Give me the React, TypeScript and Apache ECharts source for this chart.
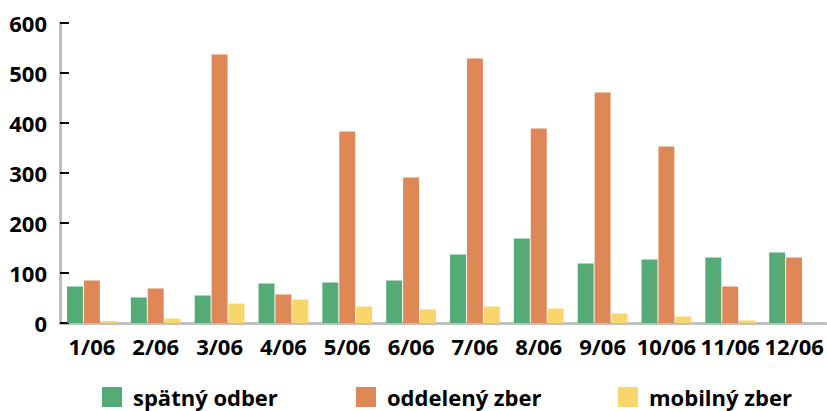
import React, { useEffect, useRef } from "react";
import * as echarts from "echarts";

const categories = ["1/06", "2/06", "3/06", "4/06", "5/06", "6/06", "7/06", "8/06", "9/06", "10/06", "11/06", "12/06"];
const spatnyOdber = [73, 51, 55, 79, 81, 85, 137, 169, 119, 127, 131, 141];
const oddelenyZber = [85, 69, 537, 57, 383, 291, 529, 389, 461, 353, 73, 131];
const mobilnyZber = [4, 9, 39, 47, 33, 27, 33, 29, 19, 13, 5, 0];
const yTicks = [0, 100, 200, 300, 400, 500, 600];
const seriesNames = ["spätný odber", "oddelený zber", "mobilný zber"];
const colors = ["#55ab76", "#df8857", "#f9d66b"];

export default function App() {
  const ref = useRef<HTMLDivElement>(null);
  useEffect(() => {
    document.body.style.margin = "0";
    if (!ref.current) return;
    const chart = echarts.init(ref.current, null, { renderer: "svg" });
    const font = "'Open Sans', sans-serif";
    const legendLefts = [102, 356, 618];
    chart.setOption({
      animation: false,
      textStyle: { fontFamily: font },
      grid: { left: 60, right: 1, top: 23, bottom: 88, containLabel: false },
      legend: seriesNames.map((n, i) => ({
        data: [n],
        left: legendLefts[i],
        top: 386,
        itemWidth: 20,
        itemHeight: 20,
        itemGap: 0,
        icon: "rect",
        textStyle: { fontFamily: font, fontSize: 22, fontWeight: "bold", color: "#000", padding: [0, 0, 0, 6] },
        padding: 0,
        selectedMode: false,
      })),
      xAxis: {
        type: "category",
        data: categories,
        axisLine: { lineStyle: { color: "#c0c0c0", width: 3 } },
        axisTick: { inside: true, length: 8, lineStyle: { color: "#000", width: 2 } },
        axisLabel: { fontFamily: font, fontSize: 22, fontWeight: "bold", color: "#000", margin: 12, interval: 0 },
      },
      yAxis: {
        type: "value",
        min: 0,
        max: yTicks[yTicks.length - 1],
        interval: 100,
        splitLine: { show: false },
        axisLine: { show: true, lineStyle: { color: "#c0c0c0", width: 3 } },
        axisTick: { show: true, inside: true, length: 9, lineStyle: { color: "#000", width: 2 } },
        axisLabel: { fontFamily: font, fontSize: 22, fontWeight: "bold", color: "#000", margin: 13 },
      },
      series: [spatnyOdber, oddelenyZber, mobilnyZber].map((d, i) => ({
        name: seriesNames[i],
        type: "bar",
        data: d,
        itemStyle: { color: colors[i] },
        barGap: "6%",
        barCategoryGap: "22%",
      })),
    });
    return () => chart.dispose();
  }, []);
  return <div ref={ref} style={{ width: 827, height: 411 }} />;
}
